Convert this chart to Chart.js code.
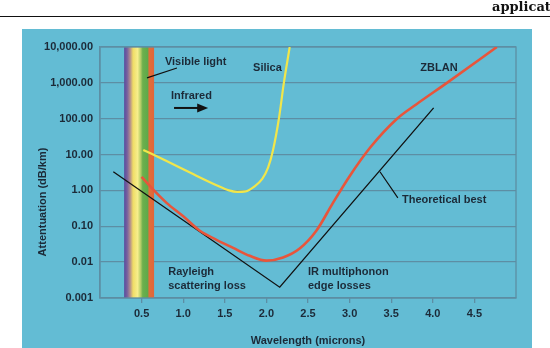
<!DOCTYPE html>
<html>
<head>
<meta charset="utf-8">
<script src="https://cdn.jsdelivr.net/npm/chart.js@4.4.1/dist/chart.umd.min.js"></script>
<style>
  html, body { margin: 0; padding: 0; background: #fff; }
  body { width: 550px; height: 348px; overflow: hidden; position: relative; }
  #wrap { position: absolute; left: 0; top: 0; width: 550px; height: 348px; }
  #header { position: absolute; left: 0; top: 0; width: 550px; height: 16px; border-bottom: 1.5px solid #111; }
  #header span { position: absolute; left: 492px; top: -1px; font: bold 13px "DejaVu Serif", serif; color: #111; white-space: nowrap; }
</style>
</head>
<body>
<div id="wrap"><canvas id="chart" width="550" height="348"></canvas></div>
<div id="header"><span>applicat</span></div>
<script>
// axis ticks
const xTicks = [0.5, 1.0, 1.5, 2.0, 2.5, 3.0, 3.5, 4.0, 4.5];
const yTicks = [0.001, 0.01, 0.1, 1, 10, 100, 1000, 10000];
const yTickLabels = ["0.001", "0.01", "0.10", "1.00", "10.00", "100.00", "1,000.00", "10,000.00"];

// silica fibre
const silicaX = [0.52, 0.8, 1.1, 1.4, 1.55, 1.65, 1.75, 1.85, 1.95, 2.02, 2.08, 2.15, 2.21, 2.28];
const silicaY = [13.5, 6.6, 3.0, 1.4, 1.0, 0.91, 0.94, 1.26, 2.1, 4.3, 13.5, 100, 1000, 10000];

// ZBLAN fibre
const zblanX = [0.5, 0.64, 0.8, 1.0, 1.2, 1.4, 1.6, 1.8, 2.0, 2.2, 2.4, 2.6, 2.8, 3.0, 3.25, 3.57, 3.8, 4.17, 4.77];
const zblanY = [2.4, 1.05, 0.45, 0.19, 0.075, 0.042, 0.025, 0.015, 0.011, 0.0135, 0.024, 0.075, 0.45, 2.5, 16, 100, 250, 1000, 10000];

// theoretical best
const bestX = [0.16, 2.16, 4.01];
const bestY = [3.3, 0.002, 200];

// visible light band (microns)
const visibleStart = 0.29;
const visibleEnd = 0.65;

const textColor = "#1c2a38";
const gridColor = "#5d8ea4";
const fontFamily = '"Liberation Sans", Arial, Helvetica, sans-serif';

function pts(xs, ys) {
  return xs.map((x, i) => ({ x: x, y: ys[i] }));
}

const panelPlugin = {
  id: "panel",
  beforeDraw(chart) {
    const ctx = chart.ctx;
    ctx.save();
    ctx.fillStyle = "#ffffff";
    ctx.fillRect(0, 0, chart.width, chart.height);
    ctx.fillStyle = "#63bcd4";
    ctx.fillRect(22, 29, 510, 319);
    ctx.restore();
  },
  beforeDatasetsDraw(chart) {
    const ctx = chart.ctx;
    const a = chart.chartArea;
    const xs = chart.scales.x;
    const x0 = xs.getPixelForValue(visibleStart);
    const x1 = xs.getPixelForValue(visibleEnd);
    ctx.save();
    const g = ctx.createLinearGradient(x0, 0, x1, 0);
    g.addColorStop(0.0, "#5a4c9e");
    g.addColorStop(0.1, "#76609e");
    g.addColorStop(0.2, "#b28d8e");
    g.addColorStop(0.3, "#f0dd66");
    g.addColorStop(0.45, "#f6ee8c");
    g.addColorStop(0.55, "#b5cd68");
    g.addColorStop(0.62, "#6cb04d");
    g.addColorStop(0.79, "#5ea94a");
    g.addColorStop(0.83, "#e06e3a");
    g.addColorStop(1.0, "#e0663a");
    ctx.fillStyle = g;
    ctx.fillRect(x0, a.top, x1 - x0, a.bottom - a.top);
    // plot frame
    ctx.strokeStyle = gridColor;
    ctx.lineWidth = 1.3;
    ctx.strokeRect(a.left, a.top, a.right - a.left, a.bottom - a.top);
    ctx.restore();
  },
  afterDatasetsDraw(chart) {
    const ctx = chart.ctx;
    const xs = chart.scales.x;
    const ys = chart.scales.y;
    const px = (v) => xs.getPixelForValue(v);
    const py = (v) => ys.getPixelForValue(Math.pow(10, v));
    ctx.save();
    ctx.fillStyle = textColor;
    ctx.font = "bold 11px " + fontFamily;
    ctx.textAlign = "left";
    ctx.textBaseline = "middle";
    const labels = [
      ["Visible light", 0.78, 3.58],
      ["Infrared", 0.853, 2.64],
      ["Silica", 1.84, 3.415],
      ["ZBLAN", 3.85, 3.415],
      ["Theoretical best", 3.63, -0.26],
      ["Rayleigh", 0.82, -2.27],
      ["scattering loss", 0.82, -2.66],
      ["IR multiphonon", 2.5, -2.27],
      ["edge losses", 2.5, -2.66]
    ];
    labels.forEach((l) => ctx.fillText(l[0], px(l[1]), py(l[2])));

    // leader lines
    ctx.strokeStyle = "#111";
    ctx.lineWidth = 1.2;
    ctx.beginPath();
    ctx.moveTo(px(0.925), py(3.415));
    ctx.lineTo(px(0.565), py(3.14));
    ctx.moveTo(px(3.365), py(0.52));
    ctx.lineTo(px(3.58), py(-0.21));
    ctx.stroke();

    // infrared arrow
    const ay = py(2.3);
    const ax0 = px(0.89);
    const ax1 = px(1.3);
    ctx.lineWidth = 2;
    ctx.beginPath();
    ctx.moveTo(ax0, ay);
    ctx.lineTo(ax1 - 8, ay);
    ctx.stroke();
    ctx.fillStyle = "#111";
    ctx.beginPath();
    ctx.moveTo(ax1, ay);
    ctx.lineTo(ax1 - 11, ay - 4.5);
    ctx.lineTo(ax1 - 11, ay + 4.5);
    ctx.closePath();
    ctx.fill();

    // y axis title
    ctx.fillStyle = textColor;
    ctx.translate(43, 202);
    ctx.rotate(-Math.PI / 2);
    ctx.textAlign = "center";
    ctx.fillText("Attentuation (dB/km)", 0, 0);
    ctx.restore();
  }
};

new Chart(document.getElementById("chart"), {
  type: "line",
  data: {
    datasets: [
      {
        label: "Silica",
        data: pts(silicaX, silicaY),
        borderColor: "#f1e64a",
        borderWidth: 2.2,
        pointRadius: 0,
        cubicInterpolationMode: "monotone"
      },
      {
        label: "ZBLAN",
        data: pts(zblanX, zblanY),
        borderColor: "#e8553b",
        borderWidth: 2.6,
        pointRadius: 0,
        cubicInterpolationMode: "monotone"
      },
      {
        label: "Theoretical best",
        data: pts(bestX, bestY),
        borderColor: "#111111",
        borderWidth: 1.3,
        pointRadius: 0,
        tension: 0
      }
    ]
  },
  options: {
    responsive: false,
    animation: false,
    layout: { padding: { top: 47, right: 34, left: 0, bottom: 0 } },
    plugins: {
      legend: { display: false },
      tooltip: { enabled: false }
    },
    scales: {
      x: {
        type: "linear",
        min: 0,
        max: 5,
        afterBuildTicks: (s) => { s.ticks = xTicks.map((v) => ({ value: v })); },
        afterFit: (s) => { s.height = 50; },
        ticks: {
          color: textColor,
          font: { family: fontFamily, size: 11, weight: "bold" },
          padding: 4,
          maxRotation: 0,
          callback: (v) => Number(v).toFixed(1)
        },
        grid: {
          drawOnChartArea: false,
          drawTicks: true,
          tickLength: 5,
          color: gridColor,
          lineWidth: 1.3
        },
        border: { display: true, color: gridColor, width: 1.3 },
        title: {
          display: true,
          text: "Wavelength (microns)",
          color: textColor,
          font: { family: fontFamily, size: 11, weight: "bold" },
          padding: { top: 4, bottom: 0 }
        }
      },
      y: {
        type: "logarithmic",
        min: 0.001,
        max: 10000,
        afterBuildTicks: (s) => { s.ticks = yTicks.map((v) => ({ value: v })); },
        afterFit: (s) => { s.width = 100; },
        ticks: {
          color: textColor,
          font: { family: fontFamily, size: 11, weight: "bold" },
          padding: 7,
          callback: (v, i) => yTickLabels[i]
        },
        grid: {
          drawTicks: false,
          color: gridColor,
          lineWidth: 1.3
        },
        border: { display: true, color: gridColor, width: 1.3 }
      }
    }
  },
  plugins: [panelPlugin]
});
</script>
</body>
</html>
